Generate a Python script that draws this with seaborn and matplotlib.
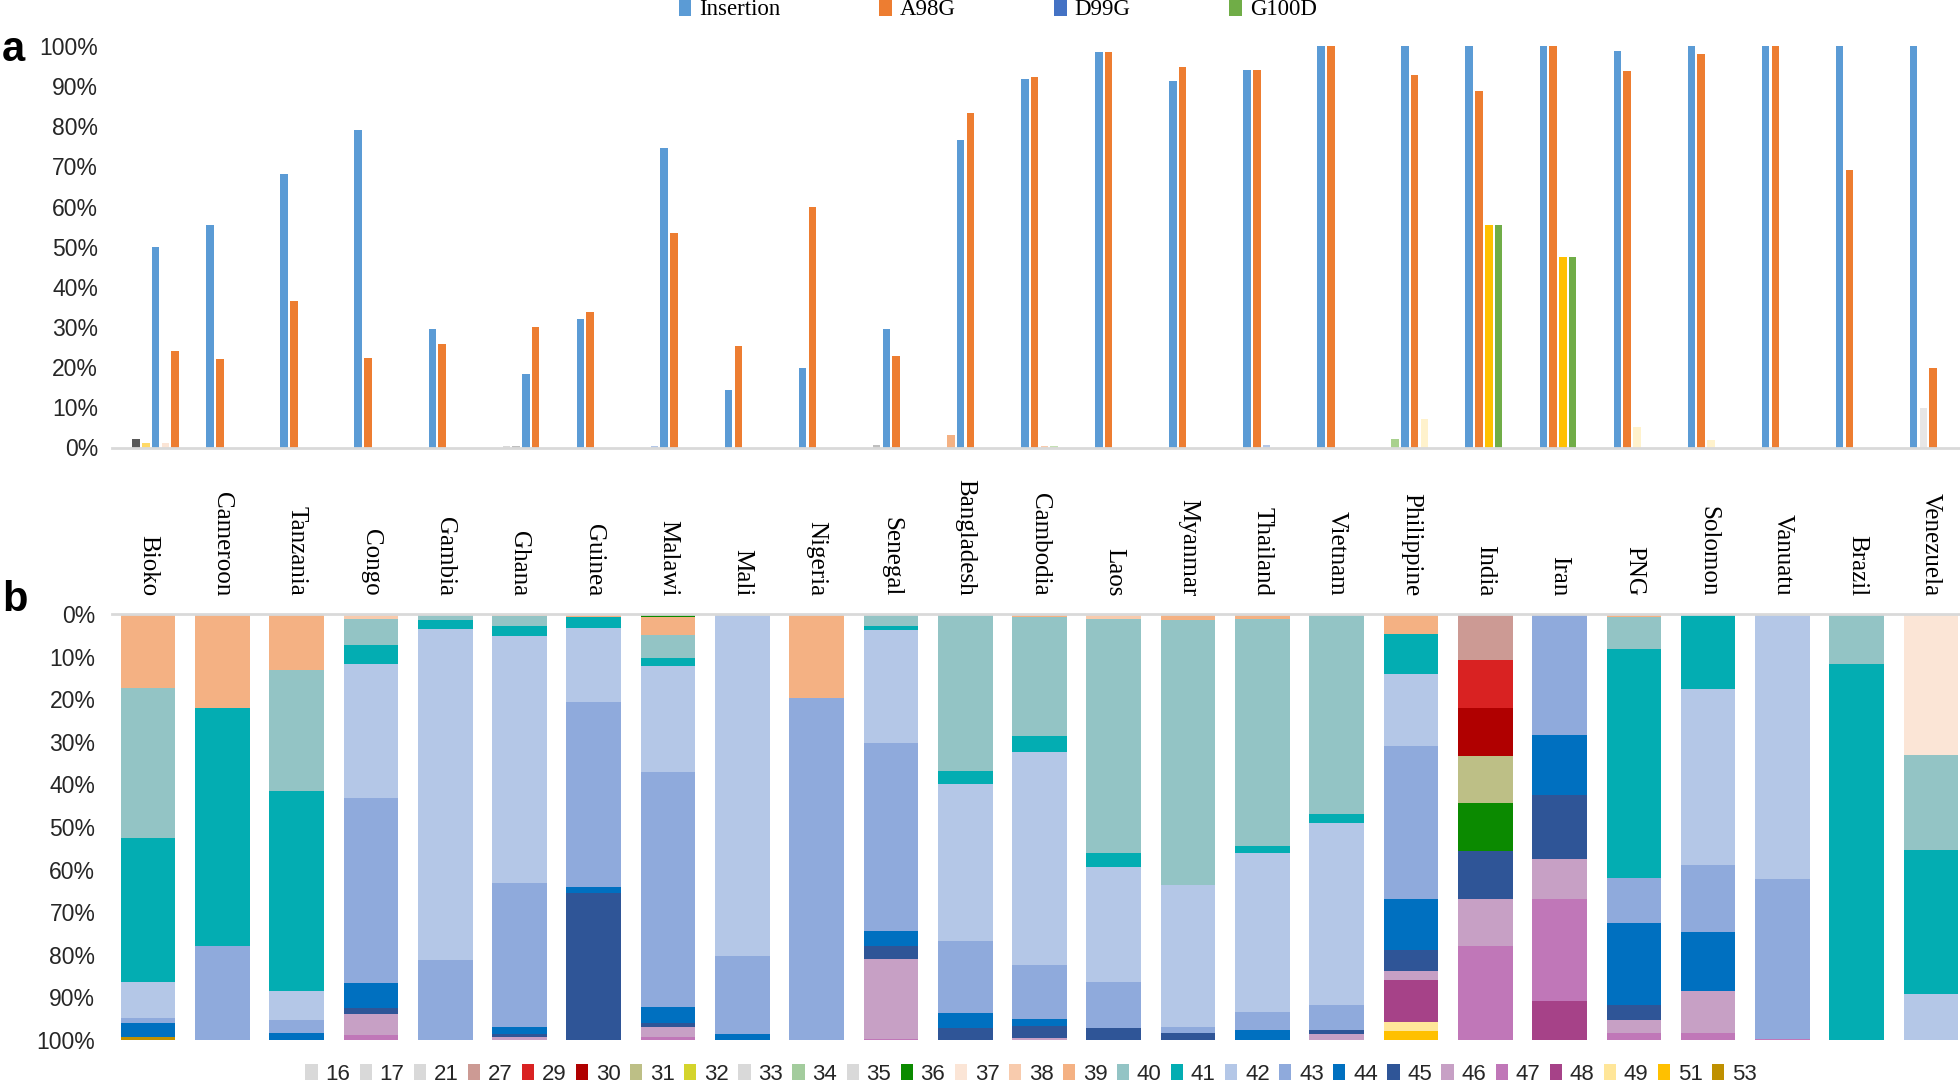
import numpy as np
import pandas as pd
import matplotlib
matplotlib.use("Agg")
import matplotlib.pyplot as plt
from matplotlib.patches import Patch
import seaborn as sns

# ---------------- data ----------------
countries = ["Bioko", "Cameroon", "Tanzania", "Congo", "Gambia", "Ghana", "Guinea",
             "Malawi", "Mali", "Nigeria", "Senegal", "Bangladesh", "Cambodia", "Laos",
             "Myanmar", "Thailand", "Vietnam", "Philippine", "India", "Iran", "PNG",
             "Solomon", "Vanuatu", "Brazil", "Venezuela"]

# panel a: number of bars drawn in each country group (left to right)
a_counts = [5, 2, 2, 2, 2, 4, 2, 3, 2, 2, 3, 3, 4, 2, 2, 3, 2, 4, 4, 4, 3, 3, 2, 2, 3]
a_series = [
    "dark grey", "light gold", "Insertion", "light peach", "A98G",   # Bioko
    "Insertion", "A98G",                                            # Cameroon
    "Insertion", "A98G",                                            # Tanzania
    "Insertion", "A98G",                                            # Congo
    "Insertion", "A98G",                                            # Gambia
    "pale grey", "grey", "Insertion", "A98G",                       # Ghana
    "Insertion", "A98G",                                            # Guinea
    "pale blue", "Insertion", "A98G",                               # Malawi
    "Insertion", "A98G",                                            # Mali
    "Insertion", "A98G",                                            # Nigeria
    "grey", "Insertion", "A98G",                                    # Senegal
    "peach", "Insertion", "A98G",                                   # Bangladesh
    "Insertion", "A98G", "pale peach", "pale green",                # Cambodia
    "Insertion", "A98G",                                            # Laos
    "Insertion", "A98G",                                            # Myanmar
    "Insertion", "A98G", "pale blue",                               # Thailand
    "Insertion", "A98G",                                            # Vietnam
    "light green", "Insertion", "A98G", "cream",                    # Philippine
    "Insertion", "A98G", "gold", "G100D",                           # India
    "Insertion", "A98G", "gold", "G100D",                           # Iran
    "Insertion", "A98G", "cream",                                   # PNG
    "Insertion", "A98G", "cream",                                   # Solomon
    "Insertion", "A98G",                                            # Vanuatu
    "Insertion", "A98G",                                            # Brazil
    "Insertion", "light grey", "A98G",                              # Venezuela
]
a_values = [
    2.0, 1.0, 50.0, 1.0, 24.0,
    55.3, 22.0,
    68.1, 36.5,
    79.1, 22.2,
    29.5, 25.9,
    0.4, 0.4, 18.3, 30.1,
    31.9, 33.8,
    0.4, 74.5, 53.5,
    14.4, 25.2,
    19.8, 59.9,
    0.7, 29.5, 22.8,
    3.1, 76.7, 83.3,
    91.8, 92.4, 0.4, 0.4,
    98.5, 98.5,
    91.3, 94.8,
    93.9, 93.9, 0.7,
    100.0, 100.0,
    2.2, 100.0, 92.7, 7.0,
    100.0, 88.9, 55.3, 55.3,
    100.0, 100.0, 47.5, 47.5,
    98.8, 93.7, 5.2,
    100.0, 97.9, 1.8,
    100.0, 100.0,
    100.0, 69.0,
    100.0, 9.8, 19.7,
]
legend_a = ["Insertion", "A98G", "D99G", "G100D"]
series_colors = {
    "Insertion": "#5B9BD5", "A98G": "#ED7D31", "D99G": "#4472C4", "G100D": "#70AD47",
    "dark grey": "#595959", "light gold": "#FFD966", "light peach": "#FBE5D6",
    "pale grey": "#D9D9D9", "grey": "#BFBFBF", "pale blue": "#B4C7E7",
    "peach": "#F4B183", "pale peach": "#F8CBAD", "pale green": "#C5E0B4",
    "light green": "#A9D18E", "cream": "#FFF2CC", "gold": "#FFC000",
    "light grey": "#E7E6E6",
}

# panel b: haplotypes and their colours
haplotypes = ["16", "17", "21", "27", "29", "30", "31", "32", "33", "34", "35", "36", "37",
              "38", "39", "40", "41", "42", "43", "44", "45", "46", "47", "48", "49", "51", "53"]
hap_colors = ["#D9D9D9", "#D9D9D9", "#D9D9D9", "#CC9A94", "#D92222", "#B00000", "#BDBF86",
              "#D4D42C", "#D9D9D9", "#A3CC9D", "#D9D9D9", "#0B8A00", "#FBE5D6",
              "#F8CBAD", "#F4B183", "#93C4C5", "#03ADB2", "#B4C7E7", "#8FAADC", "#0070C0",
              "#2F5597", "#C7A0C5", "#C077B8", "#A64288", "#FFE699", "#FFC000", "#BF9000"]

# composition of each country from the top (0%) down: (haplotype, share %)
seg_bioko = [("39", 17.3), ("40", 35.2), ("41", 34.0), ("42", 8.4), ("43", 1.2), ("44", 3.1), ("53", 0.8)]
seg_cameroon = [("39", 22.1), ("41", 55.9), ("43", 22.0)]
seg_tanzania = [("39", 13.2), ("40", 28.4), ("41", 46.9), ("42", 6.9), ("43", 2.9), ("44", 1.7)]
seg_congo = [("38", 1.1), ("40", 6.1), ("41", 4.6), ("42", 31.5), ("43", 43.3), ("44", 6.0),
             ("45", 1.4), ("46", 4.8), ("47", 1.2)]
seg_gambia = [("40", 1.5), ("41", 2.0), ("42", 77.7), ("43", 18.8)]
seg_ghana = [("39", 0.4), ("40", 2.5), ("41", 2.2), ("42", 58.0), ("43", 33.9), ("44", 1.7),
             ("45", 0.5), ("46", 0.8)]
seg_guinea = [("39", 0.8), ("41", 2.5), ("42", 17.3), ("43", 43.6), ("44", 1.2), ("45", 34.6)]
seg_malawi = [("36", 0.7), ("39", 4.3), ("40", 5.3), ("41", 2.0), ("42", 24.7), ("43", 55.2),
              ("44", 3.7), ("45", 1.0), ("46", 2.4), ("47", 0.7)]
seg_mali = [("42", 80.2), ("43", 18.5), ("44", 1.3)]
seg_nigeria = [("39", 19.7), ("43", 80.3)]
seg_senegal = [("40", 2.8), ("41", 0.9), ("42", 26.6), ("43", 44.1), ("44", 3.5), ("45", 3.1),
               ("46", 18.7), ("47", 0.3)]
seg_bangladesh = [("40", 36.8), ("41", 3.2), ("42", 36.8), ("43", 16.8), ("44", 3.6), ("45", 2.8)]
seg_cambodia = [("39", 0.7), ("40", 27.9), ("41", 3.7), ("42", 50.2), ("43", 12.5), ("44", 1.7),
                ("45", 2.9), ("46", 0.4)]
seg_laos = [("38", 1.2), ("40", 54.8), ("41", 3.4), ("42", 26.9), ("43", 10.8), ("45", 2.9)]
seg_myanmar = [("39", 1.5), ("40", 62.2), ("42", 33.3), ("43", 1.4), ("45", 1.6)]
seg_thailand = [("39", 1.2), ("40", 53.2), ("41", 1.6), ("42", 37.5), ("43", 4.2), ("44", 2.3)]
seg_vietnam = [("40", 46.9), ("41", 2.2), ("42", 42.7), ("43", 5.8), ("45", 1.1), ("46", 1.3)]
seg_philippine = [("39", 4.6), ("41", 9.4), ("42", 17.0), ("43", 35.8), ("44", 12.0), ("45", 5.0),
                  ("46", 2.2), ("48", 9.7), ("49", 2.1), ("51", 2.2)]
seg_india = [("27", 10.9), ("29", 11.2), ("30", 11.2), ("31", 11.1), ("36", 11.2), ("45", 11.2),
             ("46", 11.2), ("47", 22.0)]
seg_iran = [("43", 28.4), ("44", 14.2), ("45", 14.8), ("46", 9.4), ("47", 24.1), ("48", 9.1)]
seg_png = [("39", 0.8), ("40", 7.5), ("41", 53.6), ("43", 10.6), ("44", 19.3), ("45", 3.4),
           ("46", 3.2), ("47", 1.6)]
seg_solomon = [("41", 17.5), ("42", 41.5), ("43", 15.7), ("44", 13.8), ("46", 9.8), ("47", 1.7)]
seg_vanuatu = [("42", 62.3), ("43", 37.4), ("47", 0.3)]
seg_brazil = [("40", 11.7), ("41", 88.3)]
seg_venezuela = [("37", 33.2), ("40", 22.3), ("41", 33.6), ("42", 10.9)]

segments = [seg_bioko, seg_cameroon, seg_tanzania, seg_congo, seg_gambia, seg_ghana, seg_guinea,
            seg_malawi, seg_mali, seg_nigeria, seg_senegal, seg_bangladesh, seg_cambodia,
            seg_laos, seg_myanmar, seg_thailand, seg_vietnam, seg_philippine, seg_india,
            seg_iran, seg_png, seg_solomon, seg_vanuatu, seg_brazil, seg_venezuela]

pct_ticks = [0, 10, 20, 30, 40, 50, 60, 70, 80, 90, 100]

# ---------------- style ----------------
sns.set_theme(style="white")
plt.rcParams["font.family"] = ["Liberation Sans Narrow", "Liberation Sans", "DejaVu Sans"]
TXT = "#262626"
SERIF = ["Liberation Serif", "DejaVu Serif"]

fig = plt.figure(figsize=(19.6, 10.85), dpi=100)
W, H = 1960.0, 1085.0
left = 112 / W
axa = fig.add_axes([left, 1 - 447.5 / H, 1 - left, (447.5 - 46) / H])
axb = fig.add_axes([left, 1 - 1040 / H, 1 - left, (1040 - 614) / H])

XLIM = (-0.485, 24.39)

# ---------------- panel a ----------------
A_STEP, A_OFF, A_SLOT = 0.997, -0.162, 0.1315
dfa = pd.DataFrame({
    "country": np.repeat(countries, a_counts),
    "series": a_series,
    "value": a_values,
})
dfa["ci"] = dfa["country"].map({c: i for i, c in enumerate(countries)})
dfa["slot"] = dfa.groupby("country", sort=False).cumcount()
dfa["pos"] = (dfa["ci"] * A_STEP + A_OFF + dfa["slot"] * A_SLOT).round(4)

sns.barplot(data=dfa, x="pos", y="value", hue="series", palette=series_colors,
            native_scale=True, dodge=False, width=0.101 / A_SLOT, errorbar=None,
            saturation=1, legend=False, linewidth=0, ax=axa)
axa.set_xlim(*XLIM)
axa.set_ylim(0, 100)
axa.set_xticks([])
axa.set_yticks(pct_ticks)
axa.set_yticklabels([f"{t}%" for t in pct_ticks], fontsize=16.5, color=TXT)
axa.tick_params(axis="y", length=0, pad=10)
axa.set_xlabel("")
axa.set_ylabel("")
for s in ["top", "right", "left"]:
    axa.spines[s].set_visible(False)
axa.spines["bottom"].set_color("#D9D9D9")
axa.spines["bottom"].set_linewidth(2)

handles_a = [Patch(facecolor=series_colors[s], edgecolor="none") for s in legend_a]
fig.legend(handles_a, legend_a, loc="upper center", bbox_to_anchor=(0.509, 1.02),
           ncol=4, frameon=False, prop={"family": SERIF, "size": 16.5},
           handlelength=0.55, handleheight=0.75, handletextpad=0.35,
           columnspacing=4.3, labelcolor="black")

# ---------------- panel b ----------------
rows = []
for c, segs in zip(countries, segments):
    cum = 0.0
    for h, share in segs:
        cum += share
        rows.append((c, h, cum))
dfb = pd.DataFrame(rows, columns=["country", "hap", "cum"])
hap_color = dict(zip(haplotypes, hap_colors))

for h in reversed(haplotypes):
    sub = dfb[dfb["hap"] == h]
    if sub.empty:
        continue
    sns.barplot(data=sub, x="country", y="cum", order=countries, color=hap_color[h],
                width=0.736, saturation=1, errorbar=None, linewidth=0, ax=axb)

axb.set_xlim(*XLIM)
axb.set_ylim(100, 0)
axb.set_yticks(pct_ticks)
axb.set_yticklabels([f"{t}%" for t in pct_ticks], fontsize=16.5, color=TXT)
axb.tick_params(axis="y", length=0, pad=12)
axb.xaxis.tick_top()
axb.set_xticks(range(len(countries)))
axb.set_xticklabels(countries, rotation=-90, fontsize=18, color="black",
                    family=SERIF, va="bottom", ha="center")
axb.tick_params(axis="x", length=0, pad=13)
axb.set_xlabel("")
axb.set_ylabel("")
for s in ["bottom", "right", "left"]:
    axb.spines[s].set_visible(False)
axb.spines["top"].set_color("#D9D9D9")
axb.spines["top"].set_linewidth(2)

handles_b = [Patch(facecolor=hap_color[h], edgecolor="none") for h in haplotypes]
fig.legend(handles_b, haplotypes, loc="center", bbox_to_anchor=(0.526, 1 - 1074 / H),
           ncol=len(haplotypes), frameon=False, fontsize=16, labelcolor=TXT,
           handlelength=0.55, handleheight=0.75, handletextpad=0.35,
           columnspacing=0.42, borderpad=0.1)

# panel letters
fig.text(0.001, 1 - 50 / H, "a", fontsize=30, fontweight="bold", va="center",
         family=["Liberation Sans", "DejaVu Sans"], color="black")
fig.text(0.001, 1 - 600 / H, "b", fontsize=30, fontweight="bold", va="center",
         family=["Liberation Sans", "DejaVu Sans"], color="black")

fig.savefig("out.png", dpi=100)
